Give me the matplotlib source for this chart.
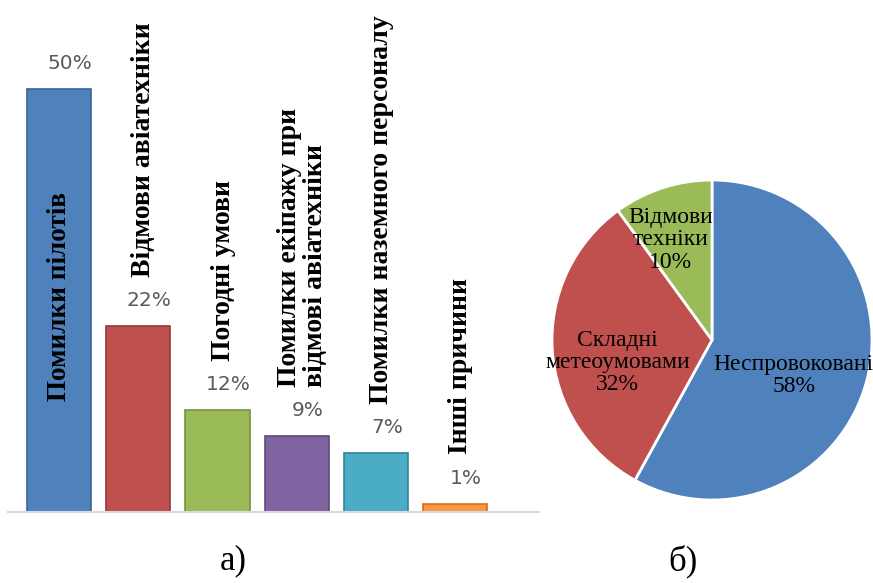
import matplotlib
matplotlib.use('Agg')
import matplotlib.pyplot as plt
import numpy as np

# bar chart data (a)
bar_labels = ['Помилки пілотів', 'Відмови авіатехніки', 'Погодні умови',
              'Помилки екіпажу при\nвідмові авіатехніки',
              'Помилки наземного персоналу', 'Інші причини']
bar_values = [50, 22, 12, 9, 7, 1]
bar_colors = ['#4F81BD', '#C0504D', '#9BBB59', '#8064A2', '#4BACC6', '#F79646']
bar_edges = ['#3A6496', '#953B39', '#76923C', '#5F497A', '#31849B', '#E36C09']

# pie chart data (b)
pie_labels = ['Неспровоковані', 'Складні\nметеоумовами', 'Відмови\nтехніки']
pie_values = [58, 32, 10]
pie_colors = ['#4F81BD', '#C0504D', '#9BBB59']

W, H = 873, 583
fig = plt.figure(figsize=(W / 100, H / 100), dpi=100)

serif = 'Liberation Serif'

# ---- bar chart ----
ax = fig.add_axes([8 / W, (H - 512) / H, (539 - 8) / W, (512 - 4) / H])
x = np.arange(len(bar_values))
ax.bar(x, bar_values, width=0.81, color=bar_colors, edgecolor=bar_edges, linewidth=1.2)
ax.set_xlim(-0.645, 6.06)
ax.set_ylim(0, 60)
for s in ['top', 'right', 'left']:
    ax.spines[s].set_visible(False)
ax.spines['bottom'].set_color('#D9D9D9')
ax.spines['bottom'].set_linewidth(1.5)
ax.set_xticks([])
ax.set_yticks([])
ax.patch.set_alpha(0)

for i, v in enumerate(bar_values):
    ax.text(i + 0.14, v + 3.0, '%d%%' % v, ha='center', va='center',
            fontsize=14.5, color='#595959', family='DejaVu Sans')

# category labels (rotated)
for i, (lab, v) in enumerate(zip(bar_labels, bar_values)):
    if i == 0:
        ax.text(i, v * 0.51, lab, rotation=90, ha='center', va='center',
                fontsize=19.5, fontweight='bold', family=serif, color='black')
    else:
        ax.text(i + 0.07, v + 5.8, lab, rotation=90, ha='center', va='bottom',
                fontsize=20, fontweight='bold', family=serif, color='black',
                multialignment='left', linespacing=1.05)

# ---- pie chart ----
r = 160
axp = fig.add_axes([(712 - r) / W, (H - 340 - r) / H, 2 * r / W, 2 * r / H])
wedges, _ = axp.pie(pie_values, colors=pie_colors, startangle=90, counterclock=False,
                    wedgeprops=dict(edgecolor='white', linewidth=2))
axp.set_xlim(-1, 1)
axp.set_ylim(-1, 1)
axp.set_aspect('equal')
axp.axis('off')

label_pos = [(0.51, -0.22), (-0.59, -0.14), (-0.26, 0.625)]
for lab, v, (px, py) in zip(pie_labels, pie_values, label_pos):
    axp.text(px, py, '%s\n%d%%' % (lab, v), ha='center', va='center',
             fontsize=17, family=serif, color='black', linespacing=1.08)

# sub captions
fig.text(233 / W, 1 - 561 / H, 'а)', ha='center', va='center', fontsize=25, family=serif)
fig.text(683 / W, 1 - 561 / H, 'б)', ha='center', va='center', fontsize=25, family=serif)

fig.savefig('out.png', dpi=100)
